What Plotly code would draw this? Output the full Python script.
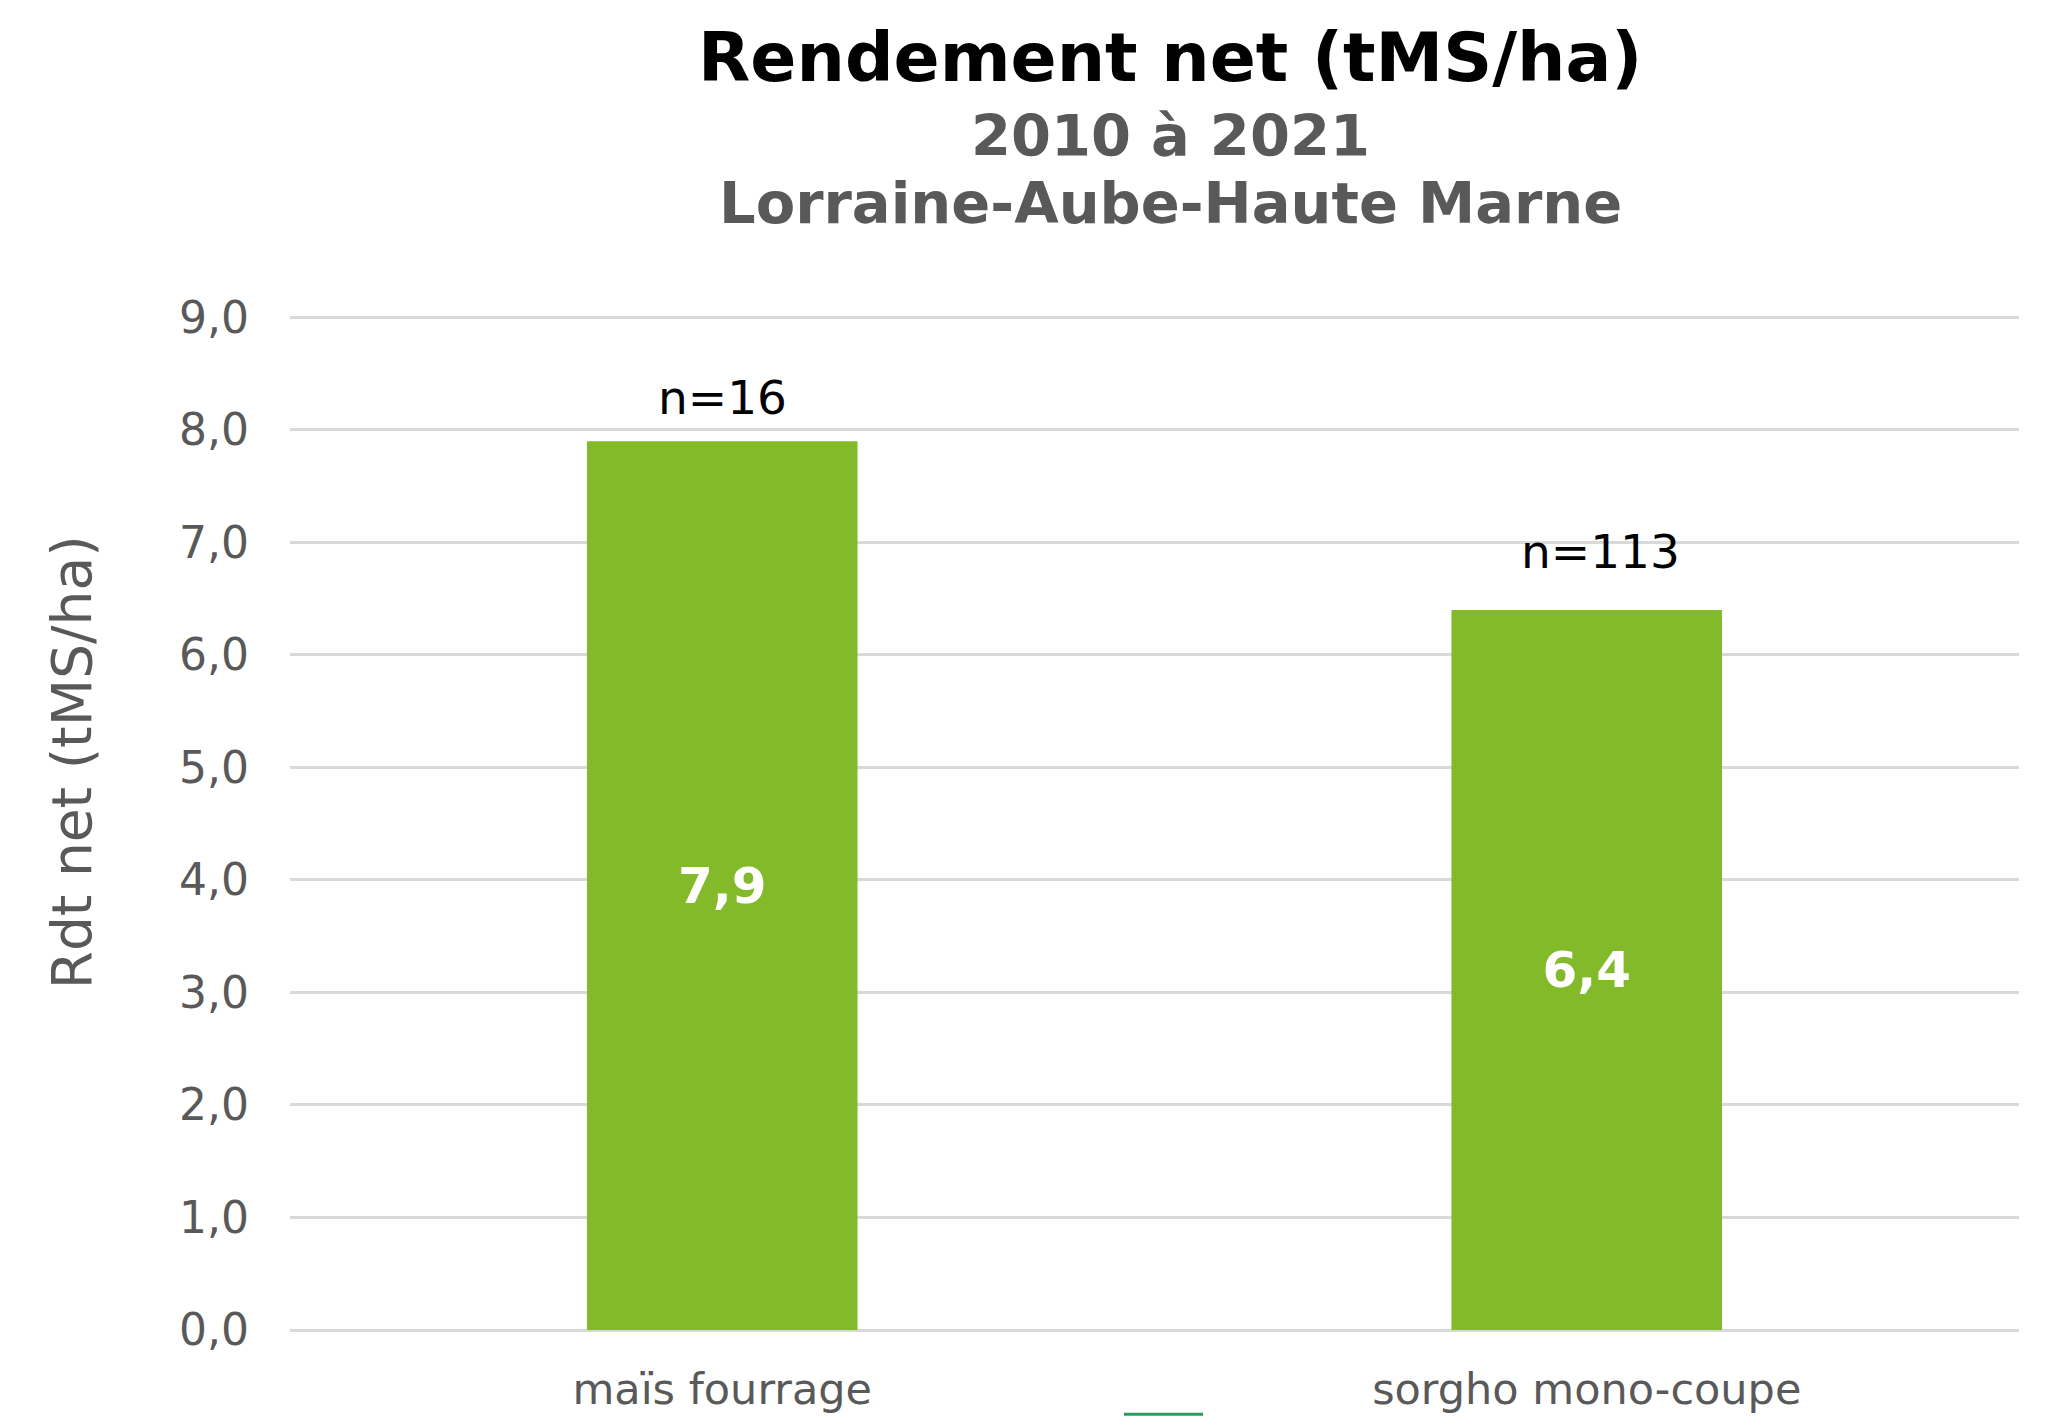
import plotly.graph_objects as go

# ---- data ----
categories = ["maïs fourrage", "sorgho mono-coupe"]
rendement = [7.9, 6.4]
n_obs = [16, 113]
y_ticks = [0, 1, 2, 3, 4, 5, 6, 7, 8, 9]

title_l1 = "Rendement net (tMS/ha)"
title_l2 = "2010 à 2021"
title_l3 = "Lorraine-Aube-Haute Marne"
y_title = "Rdt net (tMS/ha)"

FONT = "DejaVu Sans"
BAR = "#82BA2A"
GREY = "#595959"

W, H = 2045, 1426
Y_MAX = 9.03                 # tiny headroom so the 9,0 gridline is drawn
UNIT = 113.55                # px per unit on y
L = 290
R = W - 2019
B = H - 1339
T = 317 - (Y_MAX - 9) * UNIT
plot_h = H - T - B
plot_w = W - L - R


def py(pix):
    return (H - B - pix) / plot_h


def px(pix):
    return (pix - L) / plot_w


fig = go.Figure()
fig.add_trace(go.Bar(
    x=categories,
    y=rendement,
    marker=dict(color=BAR, line=dict(width=0)),
    text=[f"{v:.1f}".replace(".", ",") for v in rendement],
    textposition="inside",
    insidetextanchor="middle",
    textfont=dict(family=FONT, size=50, color="white", weight="bold"),
    cliponaxis=False,
    hoverinfo="skip",
))

# n= labels above bars
n_shift = [(0, 44), (14, 58)]
for cat, v, n, (dx, dy) in zip(categories, rendement, n_obs, n_shift):
    fig.add_annotation(
        x=cat, y=v, xref="x", yref="y", text=f"n={n}", showarrow=False,
        xshift=dx, yshift=dy, yanchor="middle",
        font=dict(family=FONT, size=47, color="#000000"),
    )

# titles
cx = px(1170)
fig.add_annotation(x=cx, y=py(55), xref="paper", yref="paper", text=f"<b>{title_l1}</b>",
                   showarrow=False, yanchor="middle",
                   font=dict(family=FONT, size=68, color="#000000"))
fig.add_annotation(x=cx, y=py(134), xref="paper", yref="paper", text=f"<b>{title_l2}</b>",
                   showarrow=False, yanchor="middle",
                   font=dict(family=FONT, size=57.5, color=GREY))
fig.add_annotation(x=cx, y=py(202), xref="paper", yref="paper", text=f"<b>{title_l3}</b>",
                   showarrow=False, yanchor="middle",
                   font=dict(family=FONT, size=57.5, color=GREY))

# y axis title
fig.add_annotation(x=px(72), y=py(766), xref="paper", yref="paper", text=y_title,
                   showarrow=False, textangle=-90, xanchor="center", yanchor="middle",
                   font=dict(family=FONT, size=55, color=GREY))

# small legend remnant at bottom
fig.add_shape(type="line", xref="paper", yref="paper",
              x0=px(1124), x1=px(1203), y0=py(1424), y1=py(1424),
              line=dict(color="#2A9D5A", width=3))

fig.update_layout(
    width=W, height=H, autosize=False,
    margin=dict(l=L, r=R, t=T, b=B, pad=0),
    paper_bgcolor="white", plot_bgcolor="white",
    separators=", ",
    showlegend=False,
    bargap=0.687,
    font=dict(family=FONT, color=GREY),
)
fig.update_yaxes(
    range=[0, Y_MAX], tickvals=y_ticks, tickformat=".1f",
    showgrid=True, gridcolor="#D9D9D9", gridwidth=3,
    zeroline=True, zerolinecolor="#D9D9D9", zerolinewidth=3,
    showline=False, ticks="",
    tickfont=dict(family=FONT, size=44, color=GREY),
    ticklabelstandoff=40,
    fixedrange=True,
)
fig.update_xaxes(
    showgrid=False, showline=False, ticks="",
    tickfont=dict(family=FONT, size=43, color=GREY),
    ticklabelstandoff=30,
    fixedrange=True,
)

fig.write_html(
    "out.html",
    config={"displayModeBar": False},
    post_script="document.body.style.margin='0';document.body.style.overflow='hidden';",
)
